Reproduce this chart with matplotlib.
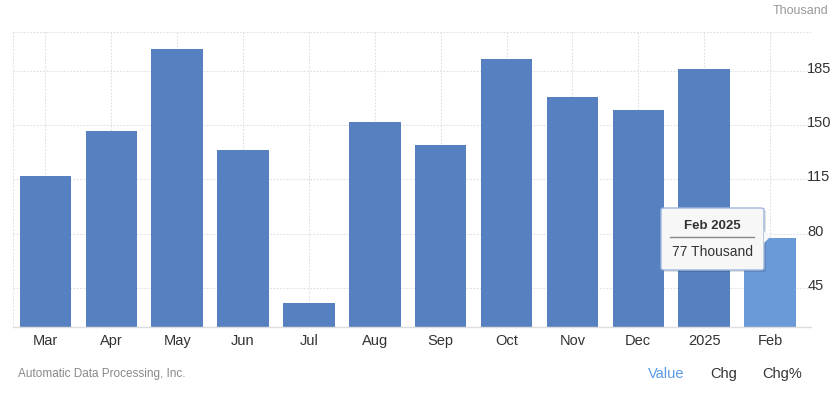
import matplotlib
matplotlib.use("Agg")
import matplotlib.pyplot as plt
import matplotlib.transforms as mtransforms
from matplotlib.patches import FancyBboxPatch, Polygon
from matplotlib.lines import Line2D

plt.rcParams['font.family'] = ['Liberation Sans', 'DejaVu Sans']

categories = ["Mar", "Apr", "May", "Jun", "Jul", "Aug", "Sep", "Oct", "Nov", "Dec", "2025", "Feb"]
values = [117, 146, 199, 134, 35, 152, 137, 193, 168, 160, 186, 77]
y_ticks = [45, 80, 115, 150, 185]
highlight_index = 11
tooltip_title = "Feb 2025"
tooltip_text = "77 Thousand"

W, H = 840, 393
fig = plt.figure(figsize=(W / 100, H / 100), dpi=100)
ax_left, ax_right, ax_top, ax_bottom = 12.5, 803, 31.7, 326.7
ax = fig.add_axes([ax_left / W, 1 - ax_bottom / H, (ax_right - ax_left) / W, (ax_bottom - ax_top) / H])

base_color = "#5680c0"
hi_color = "#6b9ad8"
colors = [hi_color if i == highlight_index else base_color for i in range(len(values))]
x = list(range(len(values)))
ax.bar(x, values, width=0.78, color=colors, zorder=3)

ax.set_xlim(-0.5, 11.5)
ymax = 210.3
ax.set_ylim(20, ymax)

ext = 1 + 8 / (ax_right - ax_left)  # horizontal lines extend a little past the plot
grid_kw = dict(color="#dedede", linestyle=(0, (1.5, 1.5)), linewidth=0.8, zorder=0)
for yv in y_ticks + [ymax]:
    ax.plot([0, ext], [yv, yv], transform=ax.get_yaxis_transform(), clip_on=False, **grid_kw)
for xv in x + [-0.5, 11.5]:
    ax.axvline(xv, **grid_kw)
ax.plot([0, ext], [20, 20], transform=ax.get_yaxis_transform(), clip_on=False,
        color="#dddddd", linewidth=1, zorder=4)

ax.set_xticks(x)
ax.set_xticklabels(categories, fontsize=10.5, color="#333333")
ax.yaxis.tick_right()
ax.set_yticks(y_ticks)
ax.set_yticklabels([str(v) for v in y_ticks], fontsize=10.5, color="#333333")
ax.tick_params(axis="both", length=0)
ax.tick_params(axis="x", pad=5)
ax.tick_params(axis="y", pad=3)
offset = mtransforms.ScaledTranslation(0, 2 / 100, fig.dpi_scale_trans)
for lbl in ax.get_yticklabels():
    lbl.set_va("center")
    lbl.set_transform(lbl.get_transform() + offset)
for s in ["top", "right", "left", "bottom"]:
    ax.spines[s].set_visible(False)

def fx(px):
    return px / W

def fy(py):
    return 1 - py / H

fig.text(fx(828), fy(11), "Thousand", ha="right", va="center", fontsize=9, color="#999999")
fig.text(fx(18), fy(374), "Automatic Data Processing, Inc.", ha="left", va="center", fontsize=8.5, color="#888888")
fig.text(fx(666), fy(374), "Value", ha="center", va="center", fontsize=10.5, color="#5b9be6")
fig.text(fx(724), fy(374), "Chg", ha="center", va="center", fontsize=10.5, color="#333333")
fig.text(fx(782), fy(374), "Chg%", ha="center", va="center", fontsize=10.5, color="#333333")

# tooltip
bx0, bx1, by0, by1 = 661, 764, 208, 270
shadow = FancyBboxPatch((fx(bx0 + 2), fy(by1 + 2)), fx(bx1 - bx0), (by1 - by0) / H,
                        boxstyle="round,pad=0,rounding_size=0.004", transform=fig.transFigure,
                        facecolor="#000000", alpha=0.12, edgecolor="none", zorder=9)
fig.patches.append(shadow)
box = FancyBboxPatch((fx(bx0), fy(by1)), fx(bx1 - bx0), (by1 - by0) / H,
                     boxstyle="round,pad=0,rounding_size=0.004", transform=fig.transFigure,
                     facecolor="#f7f7f7", edgecolor="#9fb7dc", linewidth=1, zorder=10)
fig.patches.append(box)
arrow = Polygon([(fx(764), fy(231)), (fx(770), fy(237)), (fx(764), fy(243))], closed=True,
                transform=fig.transFigure, facecolor="#f7f7f7", edgecolor="none", zorder=11)
fig.patches.append(arrow)
fig.lines.append(Line2D([fx(670), fx(754)], [fy(237), fy(237)], transform=fig.transFigure,
                        color="#888888", linewidth=1, zorder=12))
fig.text(fx(712), fy(226), tooltip_title, ha="center", va="center", fontsize=9.5,
         fontweight="bold", color="#333333", zorder=13)
fig.text(fx(712), fy(252), tooltip_text, ha="center", va="center", fontsize=10,
         color="#333333", zorder=13)

fig.savefig("out.png", dpi=100)
